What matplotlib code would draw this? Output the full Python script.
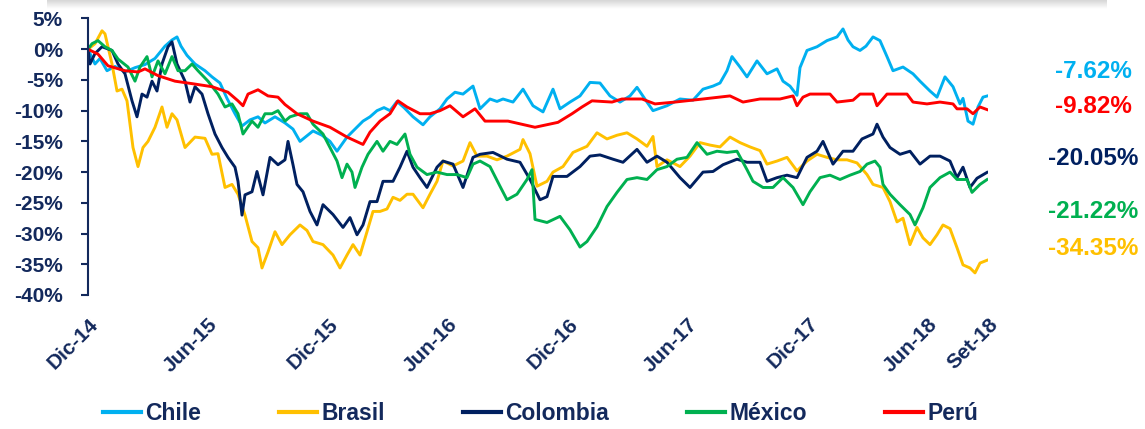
import matplotlib
matplotlib.use("Agg")
import matplotlib.pyplot as plt
from matplotlib.transforms import ScaledTranslation
import numpy as np

# --- data: months since Dic-14, cumulative change in %
chile_t = [0, 0.35, 0.6, 0.95, 1.35, 1.85, 2.35, 2.85, 3.35, 3.85,
           4.2, 4.45, 4.65, 4.95, 5.35, 5.85, 6.2, 6.6, 6.95, 7.35,
           7.7, 8.1, 8.5, 8.85, 9.35, 9.85, 10.25, 10.6, 11.25, 11.7,
           12.1, 12.45, 12.95, 13.35, 13.75, 14.1, 14.45, 14.8, 15.1, 15.45,
           15.8, 16.25, 16.75, 17.1, 17.6, 17.95, 18.35, 18.75, 19.25, 19.6,
           20.1, 20.45, 20.75, 21.25, 21.75, 22.25, 22.75, 23.25, 23.6, 24.1,
           24.6, 25.1, 25.6, 26.1, 26.6, 27.1, 27.45, 27.95, 28.25, 28.95,
           29.6, 30.25, 30.75, 31.25, 31.6, 31.95, 32.2, 32.6, 32.95, 33.45,
           33.95, 34.45, 34.75, 35.1, 35.45, 35.6, 35.95, 36.45, 36.95, 37.45,
           37.75, 38.0, 38.25, 38.6, 38.9, 39.25, 39.6, 39.95, 40.25, 40.75,
           41.25, 41.6, 42.1, 42.45, 42.85, 43.25, 43.6, 43.75, 44.0, 44.25,
           44.5, 44.75, 44.95]
chile_v = [0.0, -2.4, -1.5, -3.5, -2.8, -3.7, -3.0, -2.5, -1.5, 0.5,
           1.5, 2.0, 0.5, -1.0, -2.4, -3.5, -4.5, -5.5, -8.0, -10.5,
           -12.5, -11.5, -11.0, -12.0, -11.0, -12.0, -13.0, -15.0, -13.3, -14.0,
           -15.0, -16.6, -14.3, -13.0, -11.7, -11.0, -10.0, -9.5, -10.0, -8.5,
           -9.5, -11.0, -12.3, -11.0, -9.7, -8.1, -7.0, -7.3, -6.0, -9.7,
           -8.1, -8.5, -8.1, -8.6, -6.5, -9.2, -10.2, -6.5, -9.7, -8.6,
           -7.6, -5.4, -5.5, -7.6, -8.6, -7.6, -6.2, -8.6, -10.0, -9.2,
           -8.1, -8.3, -6.5, -6.0, -5.5, -3.5, -1.2, -2.9, -4.5, -1.9,
           -4.0, -3.2, -5.2, -6.0, -7.5, -3.0, -0.2, 0.4, 1.4, 2.0,
           3.3, 1.5, 0.4, -0.2, 0.5, 2.0, 1.4, -1.2, -3.5, -2.9,
           -4.0, -5.2, -6.8, -7.8, -4.5, -6.1, -8.9, -8.0, -11.7, -12.2,
           -9.4, -7.8, -7.62]

brasil_t = [0, 0.35, 0.7, 0.85, 1.2, 1.45, 1.7, 1.95, 2.1, 2.25,
            2.5, 2.75, 3.0, 3.35, 3.7, 3.95, 4.2, 4.45, 4.85, 5.35,
            5.85, 6.2, 6.5, 6.85, 7.2, 7.5, 7.85, 8.2, 8.5, 8.7,
            9.0, 9.35, 9.7, 10.1, 10.6, 10.95, 11.25, 11.75, 12.25, 12.6,
            12.95, 13.25, 13.6, 13.95, 14.25, 14.6, 14.95, 15.25, 15.6, 15.95,
            16.25, 16.75, 17.1, 17.45, 17.75, 18.25, 18.75, 19.1, 19.45, 19.95,
            20.45, 20.95, 21.6, 21.75, 22.1, 22.45, 22.95, 23.25, 23.75, 24.25,
            24.95, 25.45, 25.95, 26.45, 26.95, 27.45, 27.95, 28.25, 28.45, 28.95,
            29.6, 30.1, 30.6, 31.1, 31.6, 32.1, 32.6, 33.1, 33.6, 33.95,
            34.45, 34.95, 35.45, 35.95, 36.45, 36.95, 37.45, 37.95, 38.45, 38.95,
            39.25, 39.75, 40.1, 40.45, 40.75, 41.1, 41.45, 41.75, 42.1, 42.45,
            42.75, 43.1, 43.45, 43.75, 44.1, 44.35, 44.6, 44.95]
brasil_v = [0.0, 0.9, 3.0, 2.5, -2.4, -6.8, -6.5, -8.4, -12.2, -16.0,
            -19.1, -16.0, -15.0, -12.7, -9.4, -12.7, -10.5, -11.5, -16.0, -14.3,
            -14.5, -17.1, -17.0, -22.5, -22.0, -23.6, -27.0, -31.3, -32.3, -35.6,
            -33.0, -29.7, -31.8, -30.2, -28.6, -29.5, -31.3, -31.8, -33.5, -35.6,
            -33.5, -31.8, -33.5, -29.7, -26.4, -26.4, -26.0, -24.1, -24.6, -23.6,
            -23.6, -25.8, -23.6, -21.5, -18.2, -19.0, -18.2, -15.2, -17.4, -17.4,
            -18.0, -17.4, -16.3, -14.7, -17.0, -22.3, -21.5, -20.0, -19.1, -16.8,
            -15.8, -13.6, -14.6, -14.0, -13.6, -14.6, -15.8, -14.2, -19.1, -18.0,
            -19.1, -17.4, -15.2, -15.6, -15.9, -14.3, -15.2, -15.9, -16.5, -18.7,
            -18.2, -17.6, -19.8, -18.2, -17.1, -17.6, -18.0, -18.0, -18.5, -20.4,
            -22.0, -22.5, -24.8, -28.1, -27.5, -31.8, -29.0, -30.7, -31.8, -30.2,
            -28.6, -29.2, -32.3, -35.1, -35.6, -36.4, -34.8, -34.35]

colombia_t = [0, 0.1, 0.35, 0.7, 1.2, 1.5, 1.85, 2.2, 2.45, 2.7,
              2.95, 3.2, 3.45, 3.7, 4.0, 4.2, 4.45, 4.85, 5.1, 5.35,
              5.7, 6.0, 6.35, 6.7, 7.0, 7.35, 7.5, 7.7, 7.85, 8.2,
              8.45, 8.75, 9.1, 9.5, 9.85, 10.0, 10.25, 10.45, 10.75, 11.1,
              11.45, 11.75, 12.25, 12.75, 13.1, 13.45, 13.75, 14.1, 14.45, 14.75,
              15.25, 15.6, 15.95, 16.25, 16.6, 16.95, 17.45, 17.75, 18.25, 18.75,
              19.25, 19.6, 20.25, 20.95, 21.6, 22.1, 22.6, 22.95, 23.25, 23.95,
              24.6, 25.1, 25.6, 26.25, 26.75, 27.45, 27.95, 28.45, 28.95, 29.6,
              30.1, 30.75, 31.25, 31.75, 32.45, 32.95, 33.6, 33.95, 34.45, 34.95,
              35.45, 35.95, 36.45, 36.75, 37.25, 37.75, 38.25, 38.7, 39.25, 39.45,
              39.75, 40.1, 40.6, 41.1, 41.6, 42.1, 42.6, 43.1, 43.45, 43.75,
              44.1, 44.45, 44.95]
colombia_v = [0.0, -2.4, -0.7, 0.4, -0.2, -2.4, -4.0, -8.4, -11.0, -7.3,
              -7.8, -5.2, -6.8, -2.4, 0.4, 1.2, -2.4, -5.2, -8.6, -6.1,
              -7.3, -10.5, -13.8, -16.0, -17.6, -19.2, -21.5, -27.0, -23.7, -23.2,
              -19.9, -23.7, -17.6, -18.8, -18.0, -15.0, -18.8, -22.0, -23.2, -26.4,
              -28.6, -25.3, -26.9, -29.0, -27.4, -30.2, -28.6, -24.8, -24.8, -21.5,
              -21.5, -19.2, -16.6, -19.2, -20.9, -22.5, -19.2, -18.2, -18.7, -22.5,
              -17.6, -17.1, -16.8, -17.9, -18.4, -21.2, -24.5, -24.0, -20.7, -20.7,
              -19.1, -17.4, -17.2, -17.9, -18.4, -16.3, -18.4, -17.4, -18.4, -20.9,
              -22.5, -20.0, -19.9, -18.8, -17.9, -18.4, -18.4, -21.5, -20.9, -20.5,
              -20.9, -17.6, -16.6, -15.0, -18.7, -16.6, -16.6, -14.6, -13.8, -12.2,
              -14.3, -16.0, -17.1, -16.6, -18.7, -17.4, -17.4, -18.2, -20.9, -19.2,
              -22.5, -21.0, -20.05]

mexico_t = [0, 0.2, 0.5, 0.85, 1.2, 1.5, 2.0, 2.35, 2.6, 2.95,
            3.2, 3.5, 3.85, 4.2, 4.5, 4.85, 5.2, 5.5, 6.0, 6.5,
            6.85, 7.2, 7.5, 7.75, 8.2, 8.5, 8.85, 9.2, 9.5, 9.85,
            10.1, 10.6, 10.95, 11.25, 11.75, 12.1, 12.45, 12.7, 12.95, 13.2,
            13.35, 13.7, 14.0, 14.45, 14.75, 15.1, 15.45, 15.85, 16.1, 16.45,
            16.95, 17.45, 17.95, 18.45, 18.95, 19.25, 19.6, 20.1, 20.6, 20.95,
            21.45, 21.95, 22.2, 22.35, 22.95, 23.6, 24.1, 24.6, 24.95, 25.45,
            25.95, 26.45, 26.95, 27.45, 27.95, 28.45, 28.95, 29.45, 29.95, 30.45,
            30.95, 31.45, 31.95, 32.45, 32.95, 33.25, 33.75, 34.25, 34.75, 35.25,
            35.75, 36.1, 36.6, 37.1, 37.6, 38.1, 38.6, 38.95, 39.35, 39.6,
            39.75, 40.1, 40.6, 41.1, 41.35, 41.75, 42.1, 42.6, 43.1, 43.45,
            43.95, 44.2, 44.6, 44.95]
mexico_v = [0.0, 0.9, 1.4, 0.4, -0.2, -1.6, -2.9, -5.2, -2.9, -1.2,
            -4.5, -1.9, -4.0, -1.2, -3.5, -3.5, -2.4, -3.5, -5.2, -7.3,
            -9.4, -8.9, -10.5, -13.8, -11.7, -12.7, -10.5, -10.5, -10.0, -11.7,
            -11.0, -10.5, -10.5, -12.2, -13.8, -16.0, -18.2, -20.9, -18.7, -20.0,
            -22.5, -19.2, -17.1, -15.0, -16.6, -15.0, -15.5, -13.8, -17.1, -19.2,
            -20.4, -20.0, -20.4, -20.4, -20.9, -18.7, -18.2, -19.1, -22.3, -24.5,
            -23.6, -21.2, -19.6, -27.7, -28.2, -27.2, -29.4, -32.2, -31.3, -28.9,
            -25.6, -23.3, -21.2, -20.9, -21.2, -19.6, -19.1, -17.9, -17.6, -15.2,
            -17.1, -16.6, -16.8, -16.6, -19.6, -21.5, -22.5, -22.5, -20.9, -22.5,
            -25.3, -23.2, -20.9, -20.5, -21.2, -20.5, -19.9, -18.7, -18.2, -19.2,
            -22.0, -23.6, -25.3, -26.9, -28.6, -25.8, -22.5, -20.9, -20.0, -21.2,
            -21.2, -23.3, -22.0, -21.22]

peru_t = [0, 0.5, 1.0, 1.85, 2.5, 2.85, 3.5, 4.35, 5.2, 6.2,
          7.0, 7.5, 7.75, 8.0, 8.5, 9.0, 9.5, 9.85, 10.45, 11.25,
          12.1, 12.95, 13.75, 14.1, 14.6, 15.1, 15.5, 15.95, 16.6, 17.1,
          17.6, 18.1, 18.75, 19.35, 19.85, 21.0, 22.35, 23.5, 24.2, 24.7,
          25.2, 26.2, 26.7, 27.7, 28.35, 29.35, 30.75, 32.1, 32.75, 33.6,
          34.6, 35.25, 35.45, 35.75, 36.1, 37.1, 37.45, 38.25, 38.6, 39.25,
          39.45, 39.95, 40.95, 41.25, 41.95, 42.6, 43.25, 43.45, 43.95, 44.25,
          44.6, 44.95]
peru_v = [0.0, -0.8, -2.7, -3.5, -3.7, -3.2, -4.3, -5.2, -5.6, -6.1,
          -7.0, -8.4, -9.2, -7.3, -6.6, -7.6, -7.8, -9.0, -10.5, -11.7,
          -12.7, -14.3, -15.5, -13.5, -11.7, -10.5, -8.4, -9.4, -10.5, -10.5,
          -10.0, -9.2, -11.0, -9.7, -11.7, -11.7, -12.7, -11.9, -10.5, -9.4,
          -8.4, -8.6, -8.1, -8.1, -8.9, -8.6, -8.1, -7.6, -8.6, -8.1,
          -8.1, -7.6, -9.2, -7.8, -7.3, -7.3, -8.6, -8.3, -7.3, -7.3,
          -9.2, -7.3, -7.3, -8.6, -8.9, -8.6, -8.9, -9.7, -9.7, -10.5,
          -9.4, -9.82]

names = ["Chile", "Brasil", "Colombia", "México", "Perú"]
tick_labels = ["Dic-14", "Jun-15", "Dic-15", "Jun-16", "Dic-16",
               "Jun-17", "Dic-17", "Jun-18", "Set-18"]
tick_months = [0, 6, 12, 18, 24, 30, 36, 42, 45]

colors = ["#00B0F0", "#FFC000", "#002060", "#00B050", "#FF0000"]
label_y = [-3.7, -32.5, -17.8, -26.4, -9.4]   # where the end labels sit
navy = "#13295C"
plt.rcParams["font.family"] = ["Liberation Sans", "DejaVu Sans"]
plt.rcParams["font.weight"] = "bold"

series = [(chile_t, chile_v), (brasil_t, brasil_v), (colombia_t, colombia_v),
          (mexico_t, mexico_v), (peru_t, peru_v)]

fig = plt.figure(figsize=(11.45, 4.29), dpi=100)
ax = fig.add_axes([88 / 1145, 1 - 295 / 429, 900 / 1145, 276.5 / 429])

for (t, v), name, c, ly in zip(series, names, colors, label_y):
    ax.plot(t, v, color=c, lw=2.1, label=name, solid_joinstyle="round")
    ax.text(1.117, ly, "%.2f%%" % v[-1], color=c, fontsize=17.5,
            fontweight="bold", ha="center", va="center",
            transform=ax.get_yaxis_transform(), clip_on=False)

ax.set_xlim(0, 45)
ax.set_ylim(-40, 5)
yt = list(range(-40, 6, 5))
ax.set_yticks(yt, ["%d%%" % y for y in yt])
ax.set_xticks(tick_months, tick_labels, rotation=45, ha="right",
              rotation_mode="anchor")
shift = ScaledTranslation(-4 / 100, 2 / 100, fig.dpi_scale_trans)
for lab in ax.get_xticklabels() + ax.get_yticklabels():
    lab.set_fontweight("bold")
    lab.set_color(navy)
for lab in ax.get_yticklabels():
    lab.set_fontsize(15)
for lab in ax.get_xticklabels():
    lab.set_fontsize(15)
    lab.set_transform(lab.get_transform() + shift)

ax.tick_params(axis="x", length=0, pad=14)
ax.tick_params(axis="y", length=5, width=1.5, color=navy, direction="out", pad=13)
for s in ["top", "right", "bottom"]:
    ax.spines[s].set_visible(False)
ax.spines["left"].set_color(navy)
ax.spines["left"].set_linewidth(1.5)

leg = fig.legend(loc="center", bbox_to_anchor=(0.472, 0.037), ncol=5,
                 frameon=False, handlelength=1.65, handletextpad=0.2,
                 columnspacing=3.4, prop={"weight": "bold", "size": 16.5},
                 labelcolor=navy)
for h in leg.get_lines():
    h.set_linewidth(3)

# faint shadow strip along the top edge
sh = fig.add_axes([47 / 1145, 1 - 9 / 429, 1060 / 1145, 9 / 429])
grad = np.linspace(0.84, 1.0, 20).reshape(-1, 1)
sh.imshow(grad, aspect="auto", cmap="gray", vmin=0, vmax=1,
          extent=[0, 1, 0, 1])
sh.axis("off")

fig.savefig("out.png", dpi=100)
